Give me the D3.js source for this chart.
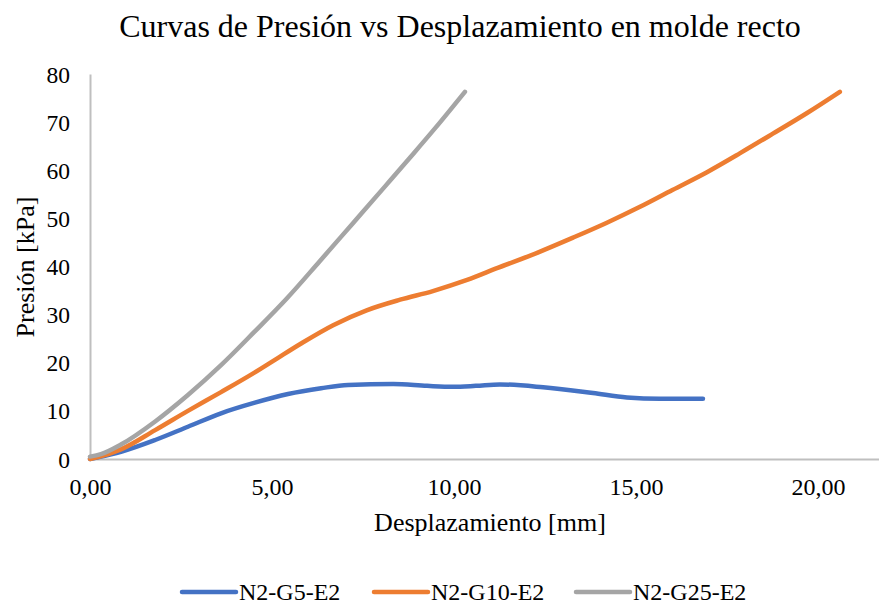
<!DOCTYPE html>
<html>
<head>
<meta charset="utf-8">
<script src="https://cdn.jsdelivr.net/npm/d3@7"></script>
<style>
  html, body { margin: 0; padding: 0; background: #fff; }
  svg { display: block; }
  text { font-family: "Liberation Serif", "Times New Roman", serif; fill: #000; }
</style>
</head>
<body>
<svg id="chart" width="879" height="604"></svg>
<script>
// ---- data ----
const seriesNames = ["N2-G5-E2", "N2-G10-E2", "N2-G25-E2"];
const seriesColors = ["#4472C4", "#ED7D31", "#A5A5A5"];

const g5X = [0, 0.22, 0.85, 1.79, 2.69, 3.6, 4.53, 5.44, 6.35, 7.09, 8.33, 9.26, 9.97, 10.6, 11.26, 12.45, 13.82, 14.75, 15.66, 16.84];
const g5Y = [0, 0.35, 1.5, 3.95, 6.7, 9.5, 11.7, 13.5, 14.7, 15.4, 15.6, 15.2, 15.0, 15.2, 15.5, 14.9, 13.7, 12.8, 12.5, 12.5];

const g10X = [0, 0.22, 0.85, 1.79, 2.69, 3.6, 4.53, 5.08, 5.8, 6.68, 7.6, 8.52, 9.42, 10.36, 11.2, 12.3, 13.27, 14.2, 15.11, 16.0, 16.95, 17.85, 18.76, 19.7, 20.6];
const g10Y = [0, 0.4, 2.0, 6.0, 10.0, 13.9, 18.0, 20.6, 24.0, 27.8, 30.9, 33.1, 34.9, 37.2, 39.7, 42.9, 46.0, 49.1, 52.4, 55.9, 59.6, 63.5, 67.6, 71.9, 76.3];

const g25X = [0, 0.3, 0.85, 1.79, 2.69, 3.6, 4.5, 5.4, 6.3, 7.2, 8.1, 8.8, 9.5, 10.3];
const g25Y = [0.5, 1.0, 3.0, 7.8, 13.3, 19.5, 26.3, 33.3, 41.0, 48.8, 56.6, 62.7, 68.9, 76.3];

const xTicks = [0, 5, 10, 15, 20];
const yTicks = [0, 10, 20, 30, 40, 50, 60, 70, 80];

const titleText = "Curvas de Presión vs Desplazamiento en molde recto";
const xTitle = "Desplazamiento [mm]";
const yTitle = "Presión [kPa]";

// ---- layout ----
const svg = d3.select("#chart");
const plotLeft = 90, plotRight = 879, plotTop = 74, plotBottom = 459;
const pxPerMm = 36.4;
const x = d3.scaleLinear().domain([0, (plotRight - plotLeft) / pxPerMm]).range([plotLeft, plotRight]);
const y = d3.scaleLinear().domain([0, 80]).range([plotBottom, plotTop]);

// title
svg.append("text").attr("x", 460).attr("y", 37).attr("text-anchor", "middle")
  .style("font-size", "32px").text(titleText);

// axes
const xAxis = d3.axisBottom(x).tickValues(xTicks).tickSize(0).tickPadding(0)
  .tickFormat(d => d3.format(".2f")(d).replace(".", ","));
const gx = svg.append("g").attr("transform", `translate(0,${plotBottom})`).call(xAxis);
gx.select(".domain").attr("stroke", "#BFBFBF").attr("stroke-width", 2);
gx.selectAll("text").attr("dy", null).attr("y", 36).style("font-size", "24px").attr("fill", "#000");

const yAxis = d3.axisLeft(y).tickValues(yTicks).tickSize(0).tickPadding(0);
const gy = svg.append("g").attr("transform", `translate(${plotLeft},0)`).call(yAxis);
gy.select(".domain").attr("stroke", "#BFBFBF").attr("stroke-width", 2);
gy.selectAll("text").attr("x", -20).attr("dy", "0.34em").style("font-size", "23.5px").attr("fill", "#000");

// axis titles
svg.append("text").attr("x", 490).attr("y", 531).attr("text-anchor", "middle")
  .style("font-size", "26px").text(xTitle);
svg.append("text").attr("transform", "translate(34,267) rotate(-90)").attr("text-anchor", "middle")
  .style("font-size", "26px").text(yTitle);

// lines
const data = [
  g5X.map((v, i) => [v, g5Y[i]]),
  g10X.map((v, i) => [v, g10Y[i]]),
  g25X.map((v, i) => [v, g25Y[i]])
];
const line = d3.line().x(d => x(d[0])).y(d => y(d[1])).curve(d3.curveMonotoneX);
svg.append("g").selectAll("path").data(data).join("path")
  .attr("d", line).attr("fill", "none")
  .attr("stroke", (d, i) => seriesColors[i])
  .attr("stroke-width", 4.5).attr("stroke-linecap", "round").attr("stroke-linejoin", "round");

// legend
const legendX = [182, 374, 576];
const lg = svg.append("g").selectAll("g").data(seriesNames).join("g")
  .attr("transform", (d, i) => `translate(${legendX[i]},592)`);
lg.append("line").attr("x1", 0).attr("x2", 54).attr("y1", 0).attr("y2", 0)
  .attr("stroke", (d, i) => seriesColors[i]).attr("stroke-width", 4.5).attr("stroke-linecap", "round");
lg.append("text").attr("x", 57).attr("y", 8).style("font-size", "24px").text(d => d);
</script>
</body>
</html>
